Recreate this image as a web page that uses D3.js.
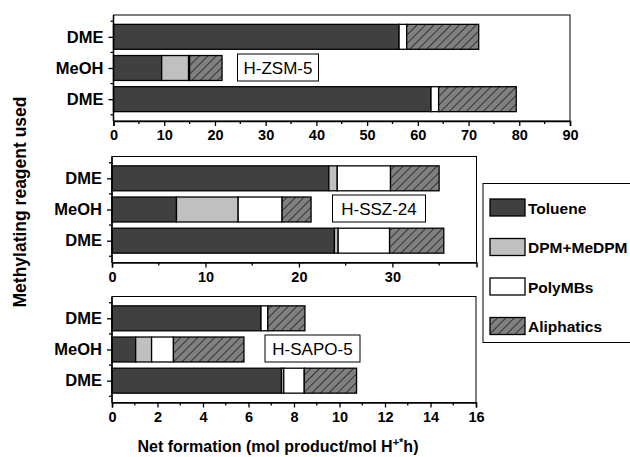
<!DOCTYPE html>
<html>
<head>
<meta charset="utf-8">
<script src="https://cdn.jsdelivr.net/npm/d3@7"></script>
<style>
  body { margin: 0; background: #fff; }
  text { font-family: "Liberation Sans", Arial, sans-serif; }
</style>
</head>
<body>
<div id="chart"></div>
<script>
// Rows top to bottom in each panel
var categories = ["DME", "MeOH", "DME"];
var seriesNames = ["Toluene", "DPM+MeDPM", "PolyMBs", "Aliphatics"];

// H-ZSM-5
var zsmToluene = [56.3, 9.5, 62.6];
var zsmDpm = [0, 5.3, 0];
var zsmPoly = [1.5, 0.2, 1.5];
var zsmAliph = [14.2, 6.4, 15.3];

// H-SSZ-24
var sszToluene = [23.2, 6.9, 23.8];
var sszDpm = [0.9, 6.6, 0.4];
var sszPoly = [5.7, 4.7, 5.5];
var sszAliph = [5.2, 3.1, 5.8];

// H-SAPO-5
var sapoToluene = [6.55, 1.04, 7.45];
var sapoDpm = [0, 0.7, 0.1];
var sapoPoly = [0.3, 0.96, 0.9];
var sapoAliph = [1.63, 3.1, 2.3];

var svgWidth = 630;
var svgHeight = 457;

var svg = d3.select("#chart")
    .append("svg")
    .attr("width", svgWidth)
    .attr("height", svgHeight);

// hatch pattern for aliphatics
var defs = svg.append("defs");
var pattern = defs.append("pattern")
    .attr("id", "hatch")
    .attr("patternUnits", "userSpaceOnUse")
    .attr("width", 6)
    .attr("height", 6)
    .attr("patternTransform", "rotate(45)");
pattern.append("rect")
    .attr("width", 6).attr("height", 6)
    .attr("fill", "#808080");
pattern.append("line")
    .attr("x1", 0).attr("y1", 0).attr("x2", 0).attr("y2", 6)
    .attr("stroke", "#000").attr("stroke-width", 1.2);

var fills = ["#404040", "#c0c0c0", "#ffffff", "url(#hatch)"];

// panel layouts
var panels = [
    {name: "H-ZSM-5", left: 113.5, right: 570, top: 15, bottom: 121, max: 90, major: 10,
     data: [zsmToluene, zsmDpm, zsmPoly, zsmAliph], box: [237.5, 54, 81, 27]},
    {name: "H-SSZ-24", left: 112, right: 476.5, top: 156.5, bottom: 262.5, max: 39, major: 10,
     data: [sszToluene, sszDpm, sszPoly, sszAliph], box: [332.5, 195, 93, 27]},
    {name: "H-SAPO-5", left: 112, right: 476, top: 296.5, bottom: 402.5, max: 16, major: 2,
     data: [sapoToluene, sapoDpm, sapoPoly, sapoAliph], box: [265, 335, 95, 27]}
];

panels.forEach(function(p) {
    var g = svg.append("g");

    var xScale = d3.scaleLinear()
        .domain([0, p.max])
        .range([p.left, p.right]);

    var yScale = d3.scaleLinear()
        .domain([-0.7, 2.7])
        .range([p.top, p.bottom]);

    // frame
    g.append("rect")
        .attr("x", p.left).attr("y", p.top)
        .attr("width", p.right - p.left).attr("height", p.bottom - p.top)
        .attr("fill", "none").attr("stroke", "#000").attr("stroke-width", 1);

    // stacked bars
    var rows = categories.map(function(c, i) {
        var x0 = 0;
        return p.data.map(function(s, k) {
            var seg = {row: i, k: k, x0: x0, x1: x0 + s[i]};
            x0 += s[i];
            return seg;
        });
    });
    var segs = d3.merge(rows).filter(function(d) { return d.x1 > d.x0; });
    var barH = yScale(0.8) - yScale(0);

    g.selectAll(".seg")
        .data(segs)
        .enter()
        .append("rect")
        .attr("x", d => xScale(d.x0))
        .attr("y", d => yScale(d.row) - barH / 2)
        .attr("width", d => xScale(d.x1) - xScale(d.x0))
        .attr("height", barH)
        .attr("fill", d => fills[d.k])
        .attr("stroke", "#000")
        .attr("stroke-width", 1.3);

    // bottom axis
    var majorTicks = d3.range(0, p.max + 0.001, p.major);
    var minorTicks = d3.range(p.major / 2, p.max, p.major);
    var bottomAxis = d3.axisBottom(xScale)
        .tickValues(majorTicks)
        .tickSize(5)
        .tickPadding(4)
        .tickFormat(d3.format("d"));
    var xAxisG = g.append("g")
        .attr("transform", `translate(0, ${p.bottom})`)
        .call(bottomAxis);
    xAxisG.select(".domain").attr("stroke-width", 1.5);
    xAxisG.selectAll(".tick line").attr("stroke-width", 1.3);
    xAxisG.selectAll("text")
        .attr("font-size", "14.5px")
        .attr("font-weight", "bold")
        .attr("font-family", "Liberation Sans, Arial, sans-serif")
        .attr("fill", "#000");
    g.selectAll(".xminor")
        .data(minorTicks)
        .enter()
        .append("line")
        .attr("x1", d => xScale(d)).attr("x2", d => xScale(d))
        .attr("y1", p.bottom).attr("y2", p.bottom + 3)
        .attr("stroke", "#000").attr("stroke-width", 1.3);

    // left axis
    var leftAxis = d3.axisLeft(yScale)
        .tickValues([0, 1, 2])
        .tickSize(5)
        .tickPadding(5)
        .tickFormat(i => categories[i]);
    var yAxisG = g.append("g")
        .attr("transform", `translate(${p.left}, 0)`)
        .call(leftAxis);
    yAxisG.select(".domain").remove();
    yAxisG.selectAll(".tick line").attr("stroke-width", 1.3);
    yAxisG.selectAll("text")
        .attr("font-size", "16.5px")
        .attr("font-weight", "bold")
        .attr("font-family", "Liberation Sans, Arial, sans-serif")
        .attr("fill", "#000");
    g.append("line")
        .attr("x1", p.left).attr("x2", p.left)
        .attr("y1", p.top).attr("y2", p.bottom)
        .attr("stroke", "#000").attr("stroke-width", 1.5);
    g.selectAll(".yminor")
        .data([-0.5, 0.5, 1.5, 2.5])
        .enter()
        .append("line")
        .attr("x1", p.left - 3).attr("x2", p.left)
        .attr("y1", d => yScale(d)).attr("y2", d => yScale(d))
        .attr("stroke", "#000").attr("stroke-width", 1.3);

    // catalyst label box
    g.append("rect")
        .attr("x", p.box[0]).attr("y", p.box[1])
        .attr("width", p.box[2]).attr("height", p.box[3])
        .attr("fill", "#fff").attr("stroke", "#000").attr("stroke-width", 1);
    g.append("text")
        .attr("x", p.box[0] + p.box[2] / 2)
        .attr("y", p.box[1] + p.box[3] / 2 + 6)
        .attr("text-anchor", "middle")
        .attr("font-size", "17px")
        .text(p.name);
});

// legend
var legend = svg.append("g");
legend.append("rect")
    .attr("x", 483).attr("y", 183.5)
    .attr("width", 160).attr("height", 159)
    .attr("fill", "#fff").attr("stroke", "#000").attr("stroke-width", 1);

var legendY = d3.scalePoint()
    .domain(seriesNames)
    .range([207.5, 326]);

legend.selectAll(".swatch")
    .data(seriesNames)
    .enter()
    .append("rect")
    .attr("x", 490)
    .attr("y", d => legendY(d) - 8.5)
    .attr("width", 35)
    .attr("height", 17)
    .attr("fill", (d, i) => fills[i])
    .attr("stroke", "#000")
    .attr("stroke-width", 1.3);

legend.selectAll(".label")
    .data(seriesNames)
    .enter()
    .append("text")
    .attr("x", 528)
    .attr("y", d => legendY(d) + 6)
    .attr("font-size", "15.5px")
    .attr("font-weight", "bold")
    .text(d => d);

// axis titles
var xTitle = svg.append("text")
    .attr("x", 278)
    .attr("y", 452)
    .attr("text-anchor", "middle")
    .attr("font-size", "16px")
    .attr("font-weight", "bold");
xTitle.append("tspan").text("Net formation (mol product/mol H");
xTitle.append("tspan").attr("dy", -6).attr("font-size", "11px").text("+*");
xTitle.append("tspan").attr("dy", 6).text("h)");

svg.append("text")
    .attr("transform", "translate(26, 202) rotate(-90)")
    .attr("text-anchor", "middle")
    .attr("font-size", "17.5px")
    .attr("font-weight", "bold")
    .text("Methylating reagent used");
</script>
</body>
</html>
